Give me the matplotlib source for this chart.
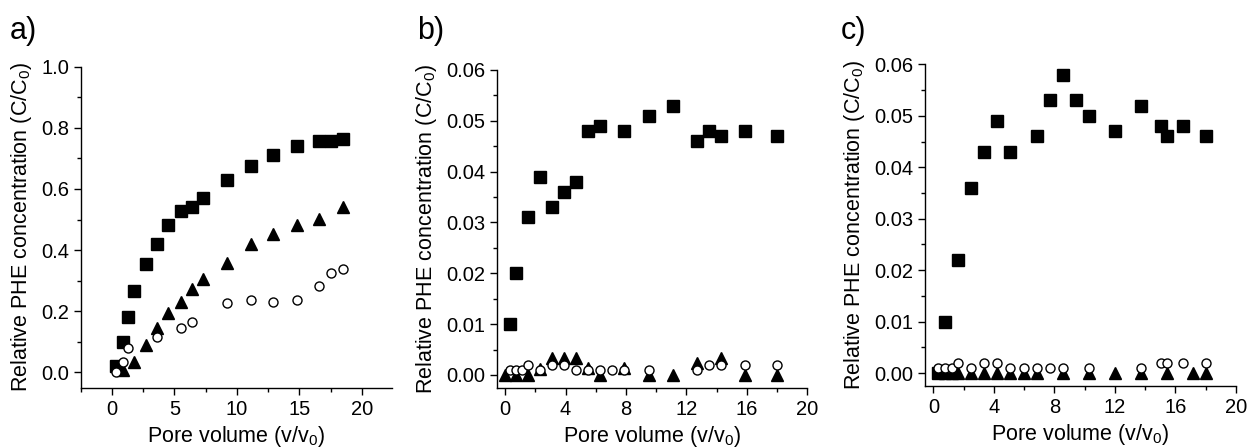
import numpy as np
import matplotlib.pyplot as plt
from matplotlib.ticker import MultipleLocator, FormatStrFormatter

plt.rcParams['font.family'] = ['Liberation Sans', 'DejaVu Sans']
plt.rcParams['mathtext.default'] = 'regular'

# panel a
a_sq_x = [0.3, 0.9, 1.3, 1.8, 2.7, 3.6, 4.5, 5.5, 6.4, 7.3, 9.2, 11.1, 12.9, 14.8, 16.6, 17.5, 18.5]
a_sq_y = [0.02, 0.10, 0.18, 0.265, 0.355, 0.42, 0.482, 0.527, 0.542, 0.571, 0.628, 0.674, 0.71, 0.74, 0.756, 0.758, 0.765]
a_tr_x = [0.9, 1.8, 2.7, 3.6, 4.5, 5.5, 6.4, 7.3, 9.2, 11.1, 12.9, 14.8, 16.6, 18.5]
a_tr_y = [0.008, 0.033, 0.089, 0.146, 0.193, 0.231, 0.272, 0.307, 0.357, 0.419, 0.452, 0.483, 0.502, 0.54]
a_ci_x = [0.3, 0.9, 1.3, 3.6, 5.5, 6.4, 9.2, 11.1, 12.9, 14.8, 16.6, 17.5, 18.5]
a_ci_y = [0.0, 0.035, 0.081, 0.115, 0.146, 0.164, 0.226, 0.236, 0.231, 0.236, 0.283, 0.324, 0.337]

# panel b
b_sq_x = [0.3, 0.7, 1.5, 2.3, 3.1, 3.9, 4.7, 5.5, 6.3, 7.9, 9.5, 11.1, 12.7, 13.5, 14.3, 15.9, 18.0]
b_sq_y = [0.010, 0.020, 0.031, 0.039, 0.033, 0.036, 0.038, 0.048, 0.049, 0.048, 0.051, 0.053, 0.046, 0.048, 0.047, 0.048, 0.047]
b_tr_x = [0.0, 0.7, 1.5, 2.3, 3.1, 3.9, 4.7, 5.5, 6.3, 7.9, 9.5, 11.1, 12.7, 14.3, 15.9, 18.0]
b_tr_y = [0.0, 0.0, 0.0, 0.0012, 0.0033, 0.0033, 0.0033, 0.0013, 0.0, 0.0013, 0.0, 0.0, 0.0024, 0.0034, 0.0, 0.0]
b_ci_x = [0.3, 0.7, 1.1, 1.5, 2.3, 3.1, 3.9, 4.7, 5.5, 6.3, 7.1, 7.9, 9.5, 12.7, 13.5, 14.3, 15.9, 18.0]
b_ci_y = [0.001, 0.001, 0.001, 0.002, 0.001, 0.002, 0.002, 0.001, 0.001, 0.001, 0.001, 0.001, 0.001, 0.001, 0.002, 0.002, 0.002, 0.002]

# panel c
c_sq_x = [0.33, 0.77, 1.64, 2.5, 3.36, 4.24, 5.1, 6.83, 7.69, 8.55, 9.42, 10.28, 12.0, 13.75, 15.03, 15.47, 16.53, 18.06]
c_sq_y = [0.0, 0.010, 0.022, 0.036, 0.043, 0.049, 0.043, 0.046, 0.053, 0.058, 0.053, 0.050, 0.047, 0.052, 0.048, 0.046, 0.048, 0.046]
c_tr_x = [0.77, 1.22, 1.64, 2.5, 3.36, 4.24, 5.1, 5.97, 6.83, 8.55, 10.28, 12.0, 13.75, 15.47, 17.2, 18.06]
c_tr_y = [0.0] * len(c_tr_x)
c_ci_x = [0.33, 0.77, 1.22, 1.64, 2.5, 3.36, 4.24, 5.1, 5.97, 6.83, 7.69, 8.55, 10.28, 13.75, 15.03, 15.47, 16.53, 18.06]
c_ci_y = [0.001, 0.001, 0.001, 0.002, 0.001, 0.002, 0.002, 0.001, 0.001, 0.001, 0.001, 0.001, 0.001, 0.001, 0.002, 0.002, 0.002, 0.002]

fig = plt.figure(figsize=(12.5, 4.48), dpi=100)

ax_a = fig.add_axes([0.0646, 0.1346, 0.2488, 0.7165])
ax_b = fig.add_axes([0.3974, 0.1346, 0.2485, 0.7092])
ax_c = fig.add_axes([0.7400, 0.1384, 0.2486, 0.7180])

panels = [
    (ax_a, a_sq_x, a_sq_y, a_tr_x, a_tr_y, a_ci_x, a_ci_y),
    (ax_b, b_sq_x, b_sq_y, b_tr_x, b_tr_y, b_ci_x, b_ci_y),
    (ax_c, c_sq_x, c_sq_y, c_tr_x, c_tr_y, c_ci_x, c_ci_y),
]

for ax, sx, sy, tx, ty, cx, cy in panels:
    ax.plot(sx, sy, 's', color='black', ms=8, zorder=3)
    ax.plot(tx, ty, '^', color='black', ms=8.5, zorder=3)
    ax.plot(cx, cy, 'o', mfc='white', mec='black', mew=1.0, ms=6.5, zorder=4)
    for s in ['top', 'right']:
        ax.spines[s].set_visible(False)
    ax.spines['left'].set_linewidth(1.0)
    ax.spines['bottom'].set_linewidth(1.0)
    ax.tick_params(which='major', direction='out', length=5, width=1, labelsize=14.5)
    ax.tick_params(which='minor', direction='out', length=3, width=1)
    ax.set_xlabel('Pore volume (v/v$_0$)', fontsize=15.5, labelpad=4)
    ax.set_ylabel('Relative PHE concentration (C/C$_0$)', fontsize=15.5, labelpad=5)

ax_a.set_xlim(-2.5, 22.4)
ax_a.set_ylim(-0.05, 1.0)
ax_a.xaxis.set_major_locator(MultipleLocator(5))
ax_a.xaxis.set_minor_locator(MultipleLocator(2.5))
ax_a.yaxis.set_major_locator(MultipleLocator(0.2))
ax_a.yaxis.set_minor_locator(MultipleLocator(0.1))
ax_a.yaxis.set_major_formatter(FormatStrFormatter('%.1f'))

for ax in [ax_b, ax_c]:
    ax.set_xlim(-0.55, 20)
    ax.set_ylim(-0.0025, 0.06)
    ax.xaxis.set_major_locator(MultipleLocator(4))
    ax.xaxis.set_minor_locator(MultipleLocator(2))
    ax.yaxis.set_major_locator(MultipleLocator(0.01))
    ax.yaxis.set_minor_locator(MultipleLocator(0.005))
    ax.yaxis.set_major_formatter(FormatStrFormatter('%.2f'))

fig.text(0.008, 0.965, 'a)', fontsize=22, va='top')
fig.text(0.334, 0.965, 'b)', fontsize=22, va='top')
fig.text(0.673, 0.965, 'c)', fontsize=22, va='top')

fig.savefig('out.png', dpi=100)
